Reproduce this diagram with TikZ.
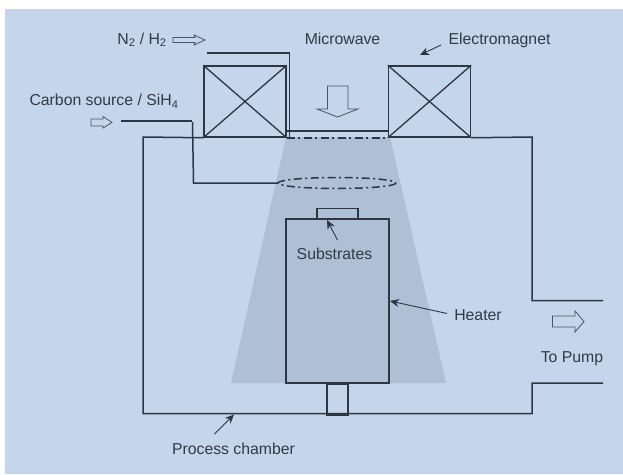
\documentclass[tikz,border=0pt]{standalone}
\usepackage{fontspec}
\setmainfont{Liberation Sans}
\usetikzlibrary{arrows.meta}
\definecolor{bgblue}{HTML}{C5D5EB}
\definecolor{beam}{HTML}{AFBFD5}
\definecolor{ink}{HTML}{2E3644}
\definecolor{txt}{HTML}{333A46}
\tikzset{
  wall/.style={draw=ink,line width=1.5pt},
  coil/.style={wall,rectangle,inner sep=0pt,minimum width=82pt,minimum height=71pt},
  boxpart/.style={wall,rectangle,inner sep=0pt},
  label/.style={text=txt,anchor=base,inner sep=0pt,font=\fontsize{15.8}{18}\selectfont},
  pointer/.style={draw=ink,line width=.9pt,-{Stealth[length=9pt,width=8pt]}},
  hollow/.style={draw=ink!85,line width=.8pt,line join=miter},
  dashdot/.style={draw=ink,line width=1.5pt,dash pattern=on 8pt off 3.5pt on 2pt off 3.5pt},
}
\begin{document}
\begin{tikzpicture}[x=1pt,y=-1pt]
\useasboundingbox (0,0) rectangle (623,474);
\fill[white] (0,0) rectangle (623,474);
\fill[bgblue] (5,9) rectangle (623,474);
% plasma beam
\fill[beam] (286,137) -- (390,137) -- (446,383) -- (231,383) -- cycle;
% coils
\node[coil] (coilL) at (245,101.5) {};
\node[coil] (coilR) at (429.5,101.5) {};
\foreach \c in {coilL,coilR}{
  \draw[wall,line width=1.3pt] (\c.north west) -- (\c.south east);
  \draw[wall,line width=1.3pt] (\c.north east) -- (\c.south west);
}
% heater parts
\node[boxpart,minimum width=103pt,minimum height=164pt] (heater) at (337.5,301) {};
\node[boxpart,anchor=south,minimum width=41pt,minimum height=10pt] (substrate) at (337.5,219) {};
\node[boxpart,anchor=north,minimum width=21pt,minimum height=31pt] (pedestal) at (337.5,383) {};
% chamber
\coordinate (pumpU) at (603,300.5);
\coordinate (pumpL) at (603,383);
\draw[wall,line join=miter] (coilL.south west) -- (143,137) -- (143,413.5) -- (532,413.5) -- (532,383) -- (pumpL);
\draw[wall,line join=miter] (coilR.south east) -- (532,137) -- (532,300.5) -- (pumpU);
% microwave window
\draw[wall] (coilL.east |- 0,131) -- (coilR.west |- 0,131);
\draw[dashdot] (coilL.south east) -- (coilR.south west);
% gas lines
\coordinate (n2start) at (207,53);
\draw[wall,line join=miter] (n2start) -- (289.5,53) -- (289.5,137);
\coordinate (cstart) at (121,121);
\draw[wall] (cstart) -- (192,121);
\node[draw=none,inner sep=0pt,minimum size=0pt] (ring) at (337,183) {};
\draw[dashdot] (ring) ellipse [x radius=59,y radius=5.5];
\coordinate (ringW) at (278,183);
\draw[wall,line join=miter] (192.5,122) -- (193.5,183) -- (ringW);
% hollow arrows
\draw[hollow,fill=bgblue] (173,37.5) -- (195,37.5) -- (194,35) -- (205,40) -- (194,45) -- (195,42.5) -- (173,42.5) -- cycle;
\draw[hollow,fill=bgblue] (91,119) -- (103,119) -- (103,116.5) -- (112,122.5) -- (103,128) -- (103,126) -- (91,126) -- cycle;
\draw[hollow,fill=bgblue] (327.5,86) -- (348,86) -- (348,109) -- (358,109) -- (337.5,117) -- (317,109) -- (327.5,109) -- cycle;
\draw[hollow,fill=bgblue] (552.5,316) -- (575,316) -- (575,311) -- (584,321.5) -- (575,332) -- (575,327) -- (552.5,327) -- cycle;
% labels
\node[label] (lN) at (142,44) {N\textsubscript{2} / H\textsubscript{2}};
\node[label] (lM) at (342.5,44) {Microwave};
\node[label] (lE) at (499.5,44) {Electromagnet};
\node[label] (lC) at (104,105.5) {Carbon source / SiH\textsubscript{4}};
\node[label] (lS) at (334.5,259) {Substrates};
\node[label] (lH) at (478,320) {Heater};
\node[label] (lT) at (572,362) {To Pump};
\node[label] (lP) at (233.5,454) {Process chamber};
% pointers
\coordinate (pE) at (420,55);
\draw[pointer] (441,45) -- (pE);
\coordinate (pS) at (327,220);
\draw[pointer] (337.5,240) -- (pS);
\coordinate (pH) at (390,301);
\draw[pointer] (447,313.5) -- (pH);
\coordinate (pP) at (234,414.5);
\draw[pointer] (214.5,434) -- (pP);
\end{tikzpicture}
\end{document}
